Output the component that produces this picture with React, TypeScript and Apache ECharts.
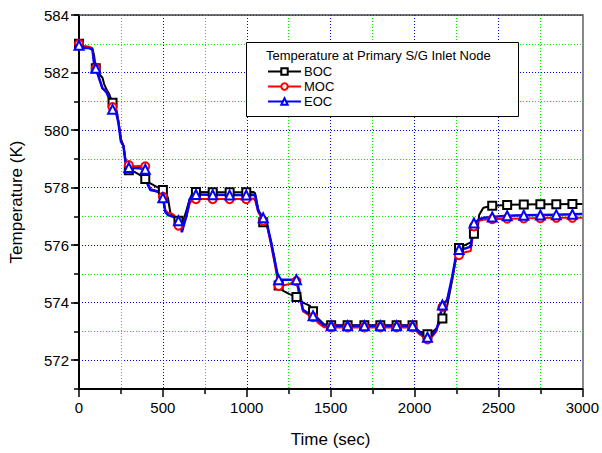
import React, { useEffect, useRef } from "react";
import * as echarts from "echarts";

const times = [
  0, 10, 30, 60, 80, 90, 100, 120, 140, 150,
  165, 180, 200, 220, 235, 250, 265, 280, 297, 330,
  360, 395, 410, 425, 455, 490, 500, 515, 530, 545,
  565, 593, 605, 613, 625, 640, 660, 680, 697, 797,
  898, 997, 1040, 1050, 1068, 1098, 1120, 1145, 1165, 1190,
  1215, 1255, 1296, 1315, 1335, 1375, 1395, 1425, 1460, 1503,
  1601, 1701, 1796, 1893, 1988, 2030, 2077, 2110, 2130, 2150,
  2166, 2195, 2225, 2250, 2265, 2300, 2335, 2354, 2375, 2385,
  2410, 2463, 2552, 2651, 2750, 2845, 2941, 3000,
];

const boc = [
  583.0, 582.9, 582.88, 582.86, 582.82, 582.6, 582.15, 581.95, 581.82, 581.6,
  581.4, 581.25, 580.95, 580.8, 580.3, 579.7, 579.45, 578.85, 578.6, 578.55,
  578.45, 578.3, 578.2, 578.15, 578.05, 577.95, 577.92, 577.8, 577.65, 577.1,
  577.03, 576.85, 576.8, 576.85, 576.92, 577.2, 577.6, 577.85, 577.85, 577.84,
  577.84, 577.84, 577.85, 577.8, 577.25, 576.8, 576.7, 576.1, 575.55, 574.6,
  574.42, 574.3, 574.2, 574.1, 574.0, 573.9, 573.7, 573.45, 573.25, 573.22,
  573.22, 573.22, 573.22, 573.22, 573.22, 573.0, 572.9, 573.0, 573.1, 573.3,
  573.45, 573.9, 574.8, 575.7, 575.9, 576.0, 576.1, 576.4, 576.45, 577.05,
  577.3, 577.37, 577.4, 577.41, 577.42, 577.42, 577.43, 577.43,
];

const moc = [
  583.0, 582.88, 582.92, 582.9, 582.85, 582.4, 582.15, 581.8, 581.45, 581.4,
  581.35, 581.1, 580.8, 580.75, 580.3, 579.65, 579.45, 578.8, 578.78, 578.74,
  578.75, 578.74, 578.2, 577.95, 577.9, 577.85, 577.68, 577.2, 577.13, 577.12,
  577.05, 576.68, 576.7, 576.72, 576.85, 577.0, 577.45, 577.6, 577.6, 577.6,
  577.6, 577.6, 577.62, 577.55, 577.15, 576.85, 576.7, 576.0, 575.4, 574.58,
  574.6, 574.65, 574.75, 574.2, 573.7, 573.55, 573.5, 573.3, 573.15, 573.14,
  573.14, 573.14, 573.14, 573.14, 573.14, 572.9, 572.72, 572.85, 573.0, 573.5,
  573.85, 574.1, 574.85, 575.6, 575.65, 575.75, 575.8, 576.65, 576.8, 576.85,
  576.88, 576.9, 576.92, 576.93, 576.94, 576.95, 576.95, 576.95,
];

const eoc = [
  582.95, 582.82, 582.85, 582.85, 582.8, 582.3, 582.15, 581.8, 581.45, 581.4,
  581.3, 581.1, 580.72, 580.65, 580.25, 579.6, 579.45, 578.75, 578.7, 578.68,
  578.67, 578.64, 578.1, 577.92, 577.88, 577.82, 577.65, 577.15, 577.05, 577.02,
  576.98, 576.85, 576.78, 576.45, 576.7, 577.0, 577.6, 577.76, 577.76, 577.75,
  577.74, 577.74, 577.75, 577.72, 577.2, 576.95, 576.75, 576.1, 575.5, 574.8,
  574.8, 574.8, 574.8, 574.35, 573.75, 573.6, 573.55, 573.4, 573.22, 573.2,
  573.2, 573.2, 573.2, 573.2, 573.2, 572.95, 572.8, 572.9, 573.05, 573.45,
  573.92, 574.1, 574.92, 575.72, 575.85, 575.88, 575.95, 576.77, 576.85, 576.9,
  576.95, 576.98, 577.02, 577.04, 577.05, 577.06, 577.07, 577.08,
];

const markerTimes = [
  0, 100, 200, 297, 395, 500, 593, 697, 797, 898, 997, 1098, 1190, 1296, 1395,
  1503, 1601, 1701, 1796, 1893, 1988, 2077, 2166, 2265, 2354, 2463, 2552, 2651,
  2750, 2845, 2941,
];

const yTicks = [572, 574, 576, 578, 580, 582, 584];

const FONT = "'Liberation Sans', Arial, sans-serif";

function buildData(values: number[]) {
  return times.map((t, i) =>
    markerTimes.includes(t)
      ? { value: [t, values[i]] }
      : { value: [t, values[i]], symbol: "none" }
  );
}

export default function App() {
  const ref = useRef<HTMLDivElement>(null);
  useEffect(() => {
    if (!ref.current) return;
    document.body.style.margin = "0";
    const chart = echarts.init(ref.current, undefined, { renderer: "svg" });
    const mkSeries = (name: string, vals: number[], color: string, symbol: string, size: number, width: number) => ({
      name,
      type: "line",
      xAxisIndex: 0,
      yAxisIndex: 0,
      data: buildData(vals),
      symbol,
      symbolSize: size,
      showAllSymbol: true,
      lineStyle: { color, width },
      itemStyle: { color, borderWidth: 1 },
      z: 3,
    });
    chart.setOption({
      animation: false,
      backgroundColor: "#fff",
      textStyle: { fontFamily: FONT },
      grid: { left: 77, right: 19, top: 15, bottom: 63, containLabel: false },
      xAxis: [
        {
          type: "value",
          min: 0,
          max: 3000,
          interval: 500,
          name: "Time (sec)",
          nameLocation: "middle",
          nameGap: 42,
          nameTextStyle: { fontSize: 17, color: "#000", fontFamily: FONT },
          axisLine: { show: true, onZero: false, lineStyle: { color: "#000", width: 2 } },
          axisTick: { show: true, inside: false, length: 8, lineStyle: { color: "#000", width: 1.5 } },
          minorTick: { show: true, splitNumber: 2, length: 5, lineStyle: { color: "#000", width: 1.5 } },
          axisLabel: { fontSize: 15, color: "#000", margin: 11, fontFamily: FONT, formatter: (v: number) => String(v) },
          splitLine: { show: true, lineStyle: { color: "#0000ff", type: [1, 2], width: 1 } },
          minorSplitLine: { show: true, lineStyle: { color: "#00ee00", type: [1, 2], width: 1 } },
        },
        {
          type: "value",
          position: "top",
          min: 0,
          max: 3000,
          axisLine: { show: true, onZero: false, lineStyle: { color: "#444", width: 1.5 } },
          axisTick: { show: false },
          axisLabel: { show: false },
          splitLine: { show: false },
        },
      ],
      yAxis: [
        {
          type: "value",
          min: 571,
          max: 584,
          interval: 1,
          name: "Temperature (K)",
          nameLocation: "middle",
          nameGap: 54,
          nameTextStyle: { fontSize: 17, color: "#000", fontFamily: FONT },
          axisLine: { show: true, onZero: false, lineStyle: { color: "#000", width: 2 } },
          axisTick: { show: true, inside: false, length: 5, lineStyle: { color: "#000", width: 1.5 } },
          axisLabel: {
            fontSize: 15,
            color: "#000",
            margin: 10,
            fontFamily: FONT,
            formatter: (v: number) => (yTicks.includes(v) ? String(v) : ""),
          },
          splitLine: { show: true, lineStyle: { color: ["#00ee00", "#0000ff"], type: [1, 2], width: 1 } },
        },
        {
          type: "value",
          position: "left",
          min: 571,
          max: 584,
          axisLine: { show: false, onZero: false },
          axisTick: { show: true, inside: false, length: 8, customValues: yTicks, lineStyle: { color: "#000", width: 1.5 } },
          axisLabel: { show: false },
          splitLine: { show: false },
        },
        {
          type: "value",
          position: "right",
          min: 571,
          max: 584,
          axisLine: { show: true, onZero: false, lineStyle: { color: "#888", width: 2 } },
          axisTick: { show: false },
          axisLabel: { show: false },
          splitLine: { show: false },
        },
      ],
      legend: {
        orient: "vertical",
        left: 267,
        top: 65,
        padding: 0,
        itemWidth: 33,
        itemHeight: 8,
        itemGap: 2,
        z: 20,
        textStyle: { fontSize: 13, color: "#000", fontFamily: FONT, padding: [0, 0, 0, -2] },
        data: ["BOC", "MOC", "EOC"],
      },
      graphic: [
        {
          type: "rect",
          z: 10,
          shape: { x: 246.5, y: 42.5, width: 272, height: 74 },
          style: { fill: "#fff", stroke: "#000", lineWidth: 1 },
        },
        {
          type: "text",
          z: 11,
          x: 266,
          y: 49,
          style: { text: "Temperature at Primary S/G Inlet Node", fontSize: 13, fill: "#000", fontFamily: FONT },
        },
      ],
      series: [
        mkSeries("BOC", boc, "#000000", "emptyRect", 8, 2),
        mkSeries("MOC", moc, "#ff0000", "emptyCircle", 8, 2),
        mkSeries("EOC", eoc, "#0000ff", "emptyTriangle", 9, 2.5),
      ],
    });
    return () => chart.dispose();
  }, []);
  return <div ref={ref} style={{ width: 602, height: 453 }} />;
}
